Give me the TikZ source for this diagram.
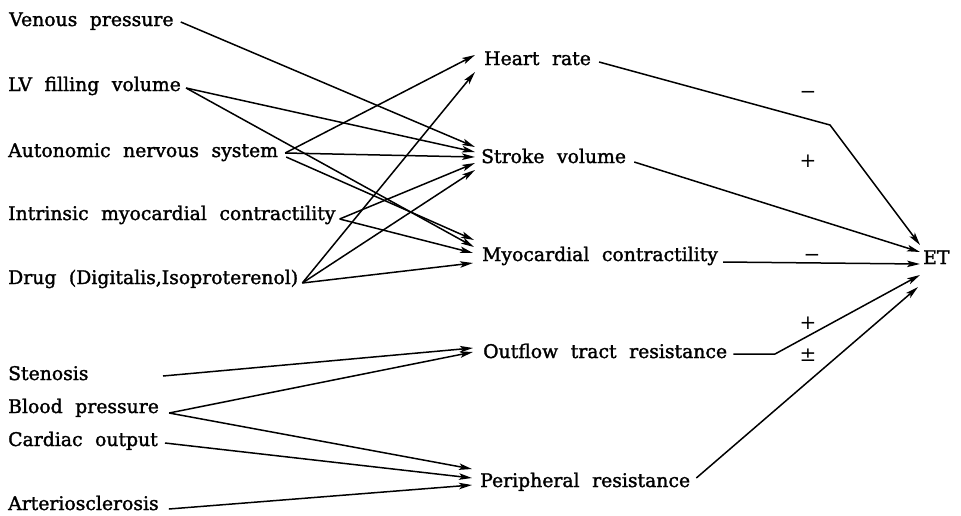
\documentclass[tikz,border=0pt]{standalone}
\usepackage{fontspec}
\setmainfont{DejaVu Serif}[WordSpace=2.1]
\newfontfamily\lblfont{DejaVu Serif}[WordSpace=2.1,FakeBold=1.6]
\usetikzlibrary{arrows.meta}
\begin{document}
\begin{tikzpicture}[x=1pt,y=-1pt,
  lbl/.style={anchor=base west, inner sep=0pt, font=\lblfont\fontsize{18.8}{21}\selectfont},
  conn/.style={line width=1.5pt, -{Stealth[length=13pt,width=6.5pt,inset=3pt]}},
  sgn/.style={inner sep=0pt, font=\fontsize{20}{22}\selectfont}]
\useasboundingbox (0,0) rectangle (961,515);
% left column
\node[lbl] (vp)  at (9,26)  {Venous pressure};
\node[lbl] (lv)  at (8,91)  {LV filling volume};
\node[lbl] (ans) at (8,157) {Autonomic nervous system};
\node[lbl] (imc) at (8,220) {Intrinsic myocardial contractility};
\node[lbl] (drg) at (8,284) {Drug (Digitalis,Isoproterenol)};
\node[lbl] (st)  at (8,380) {Stenosis};
\node[lbl] (bp)  at (8,413) {Blood pressure};
\node[lbl] (co)  at (8,446) {Cardiac output};
\node[lbl] (art) at (8,510) {Arteriosclerosis};
% middle column
\node[lbl] (hr)  at (484,65)  {Heart rate};
\node[lbl] (sv)  at (481,163) {Stroke volume};
\node[lbl] (mc)  at (482,261) {Myocardial contractility};
\node[lbl] (otr) at (483,358) {Outflow tract resistance};
\node[lbl] (pr)  at (480,487) {Peripheral resistance};
% right
\node[lbl] (et)  at (923,264) {ET};
% signs
\node[sgn] (s1) at (808,95)  {−};
\node[sgn] (s2) at (808,161) {+};
\node[sgn] (s3) at (812,258) {−};
\node[sgn] (s4) at (808,323) {+};
\node[sgn] (s5) at (808,355) {±};
% left -> middle
\draw[conn] ([shift={(7,-4)}]vp.base east) -- ([shift={(-6,-16)}]sv.base west);
\draw[conn] ([shift={(5,-3)}]lv.base east) -- ([shift={(-6,-11)}]sv.base west);
\draw[conn] ([shift={(5,-3)}]lv.base east) -- ([shift={(-8,-14)}]mc.base west);
\draw[conn] ([shift={(7,-4)}]ans.base east) -- ([shift={(-9,-10)}]hr.base west);
\draw[conn] ([shift={(7,-4)}]ans.base east) -- ([shift={(-6,-6)}]sv.base west);
\draw[conn] ([shift={(8,0)}]ans.base east) -- ([shift={(-8,-21)}]mc.base west);
\draw[conn] ([shift={(4,-1)}]imc.base east) -- ([shift={(-6,0)}]sv.base west);
\draw[conn] ([shift={(4,-1)}]imc.base east) -- ([shift={(-9,-8)}]mc.base west);
\draw[conn] ([shift={(4,-1)}]drg.base east) -- ([shift={(-9,7)}]hr.base west);
\draw[conn] ([shift={(4,-1)}]drg.base east) -- ([shift={(-6,7)}]sv.base west);
\draw[conn] ([shift={(4,-1)}]drg.base east) -- ([shift={(-9,2)}]mc.base west);
\draw[conn] ([shift={(155,-4)}]st.base west) -- ([shift={(-10,-10)}]otr.base west);
\draw[conn] ([shift={(10,0)}]bp.base east) -- ([shift={(-10,-6)}]otr.base west);
\draw[conn] ([shift={(10,0)}]bp.base east) -- ([shift={(-8,-18)}]pr.base west);
\draw[conn] ([shift={(7,-3)}]co.base east) -- ([shift={(-8,-9)}]pr.base west);
\draw[conn] ([shift={(10,-1)}]art.base east) -- ([shift={(-8,-2)}]pr.base west);
% middle -> ET
\draw[conn] ([shift={(8,-3)}]hr.base east) -- ([shift={(346,60)}]hr.base west) -- ([shift={(-3,-19)}]et.base west);
\draw[conn] ([shift={(8,-1)}]sv.base east) -- ([shift={(-3,-12)}]et.base west);
\draw[conn] ([shift={(5,1)}]mc.base east) -- ([shift={(-3,0)}]et.base west);
\draw[conn] ([shift={(6,-4)}]otr.base east) -- ([shift={(292,-4)}]otr.base west) -- ([shift={(-3,11)}]et.base west);
\draw[conn] ([shift={(6,-9)}]pr.base east) -- ([shift={(-5,23)}]et.base west);
\end{tikzpicture}
\end{document}
